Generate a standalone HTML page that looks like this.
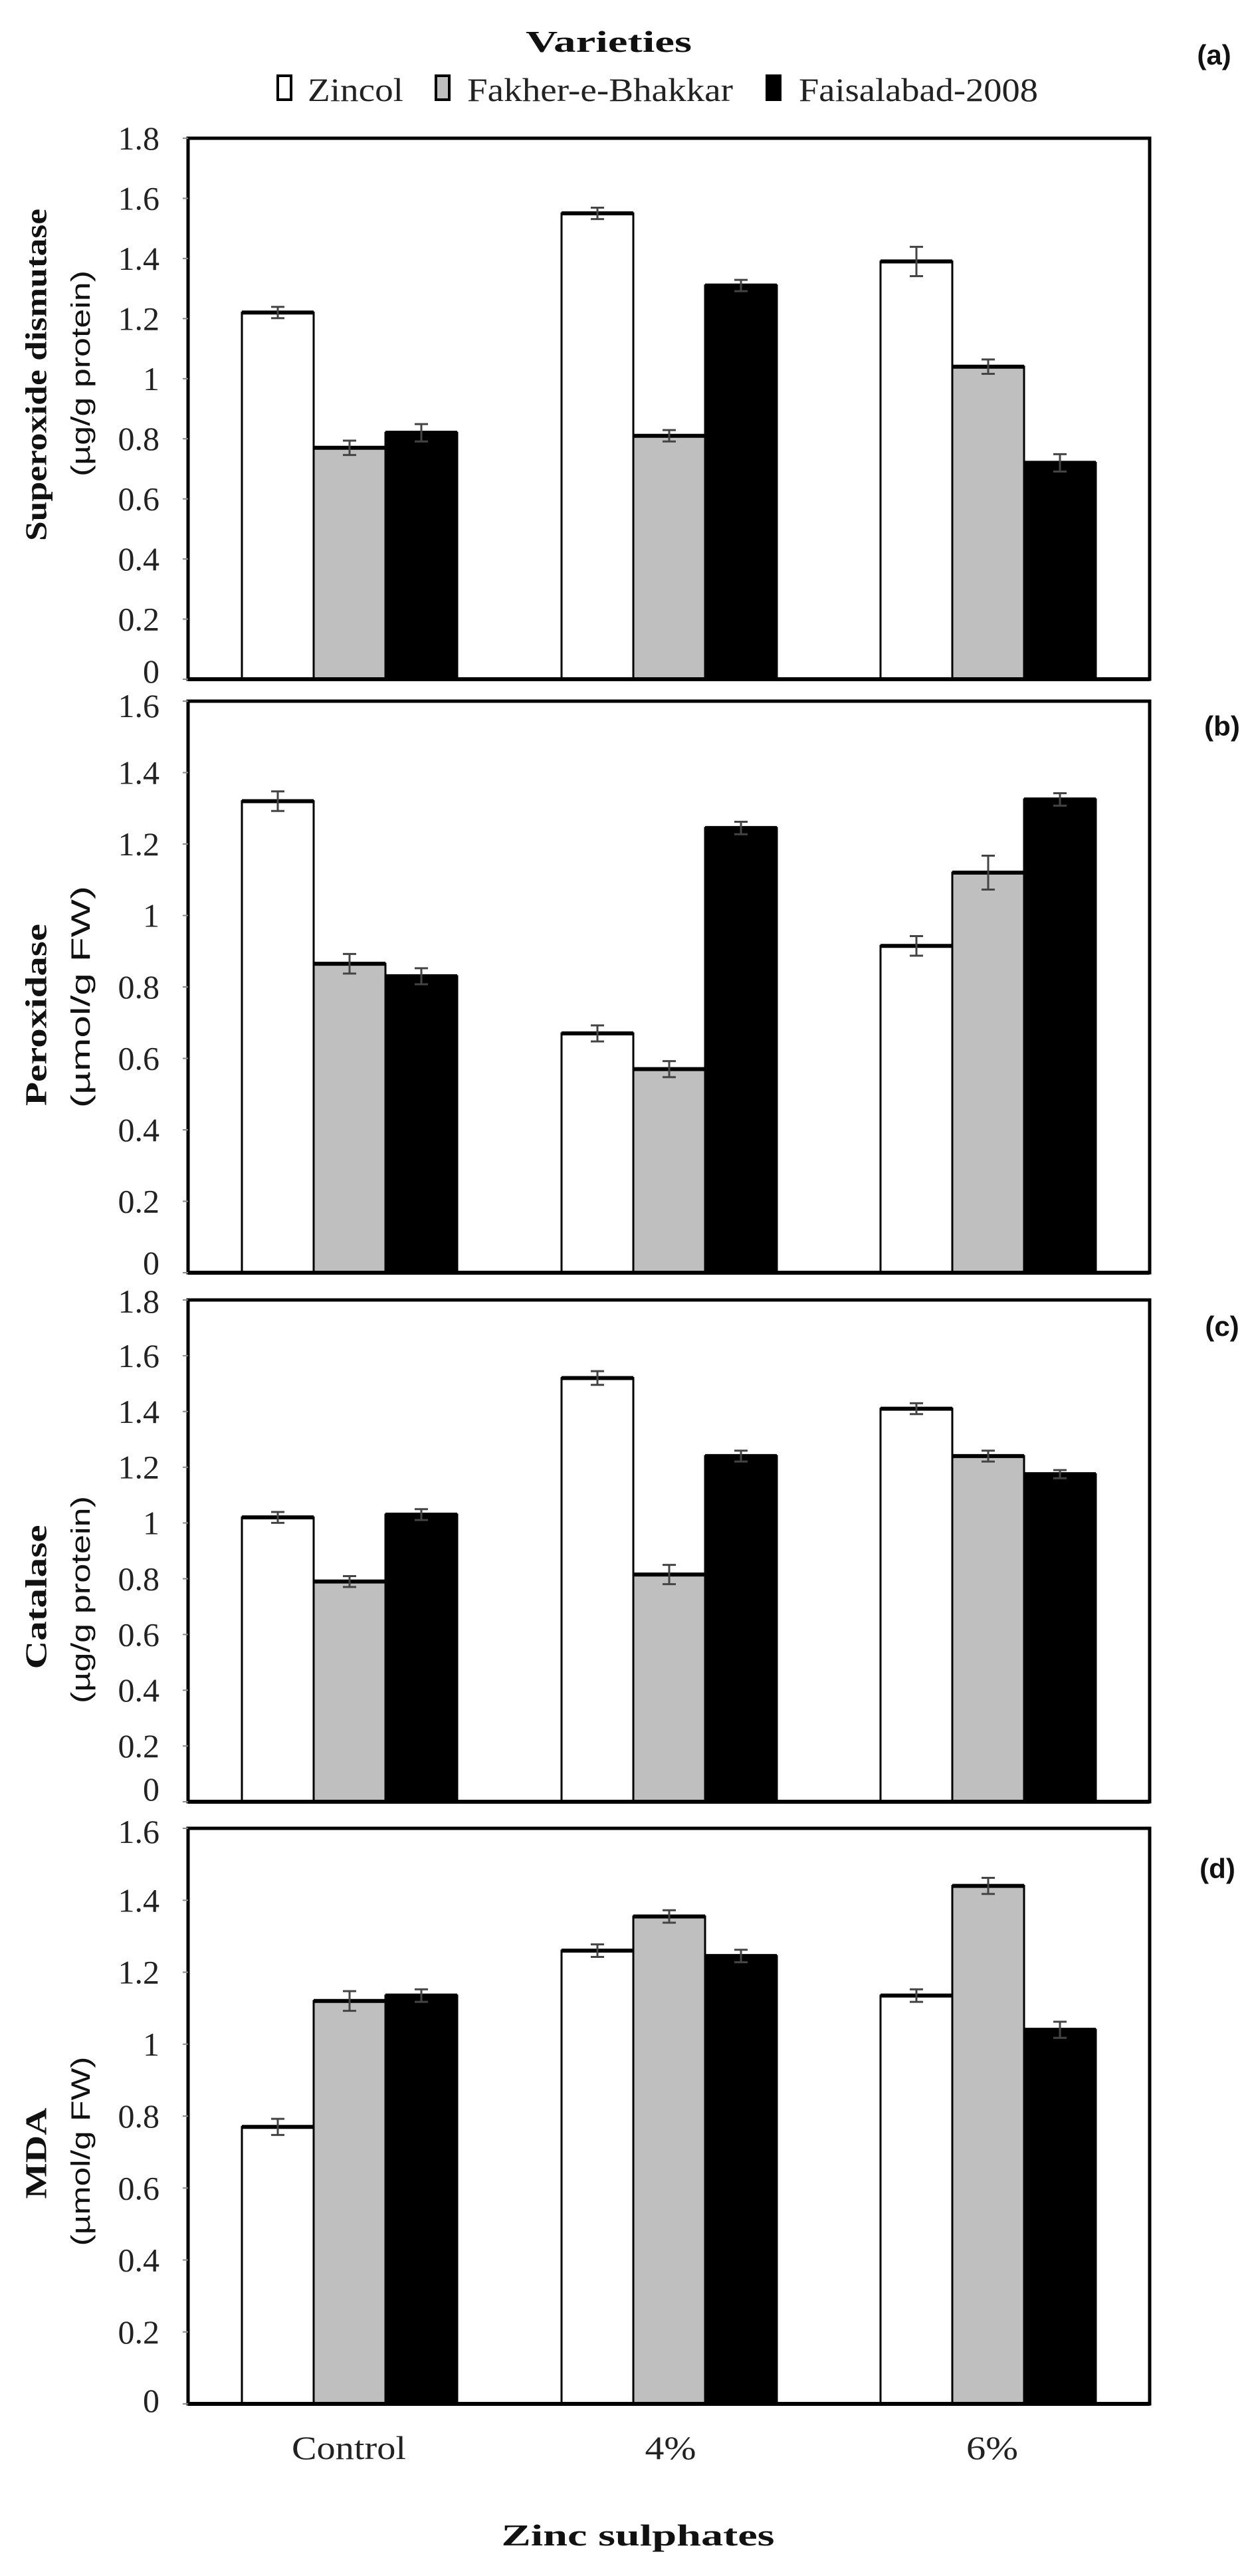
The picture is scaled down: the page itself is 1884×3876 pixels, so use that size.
<!DOCTYPE html>
<html><head><meta charset="utf-8"><style>
html,body{margin:0;padding:0;background:#fff}
svg{display:block}
.t{font-family:"Liberation Serif",serif;font-size:50px;fill:#222}
.l1{font-family:"Liberation Serif",serif;font-weight:bold;font-size:46px;fill:#111}
.l2{font-family:"Liberation Sans",sans-serif;font-size:40px;fill:#111}
.pl{font-family:"Liberation Sans",sans-serif;font-weight:bold;font-size:42px;fill:#111}
</style></head><body>
<svg id="s" width="1884" height="3876" viewBox="0 0 1884 3876" xmlns="http://www.w3.org/2000/svg">
<rect width="1884" height="3876" fill="#fff"/>
<text x="916" y="78" text-anchor="middle" class="l1" font-size="54" textLength="250" lengthAdjust="spacingAndGlyphs">Varieties</text>
<rect x="418" y="114" width="20" height="36" fill="#fff" stroke="#000" stroke-width="4"/>
<text x="463" y="152" class="t" textLength="144" lengthAdjust="spacingAndGlyphs">Zincol</text>
<rect x="656" y="114" width="20" height="36" fill="#bfbfbf" stroke="#000" stroke-width="4"/>
<text x="703" y="152" class="t" textLength="400" lengthAdjust="spacingAndGlyphs">Fakher-e-Bhakkar</text>
<rect x="1154" y="114" width="20" height="36" fill="#000" stroke="#000" stroke-width="4"/>
<text x="1202" y="152" class="t" textLength="360" lengthAdjust="spacingAndGlyphs">Faisalabad-2008</text>

<text x="1827" y="97" text-anchor="middle" class="pl">(a)</text>
<text x="1839" y="1107" text-anchor="middle" class="pl">(b)</text>
<text x="1839" y="2010" text-anchor="middle" class="pl">(c)</text>
<text x="1832" y="2826" text-anchor="middle" class="pl">(d)</text>

<g class="t" text-anchor="end" dominant-baseline="central">
<text x="240" y="1010">0</text><text x="240" y="931.6">0.2</text><text x="240" y="841.1">0.4</text><text x="240" y="750.7">0.6</text><text x="240" y="660.2">0.8</text><text x="240" y="569.8">1</text><text x="240" y="479.3">1.2</text><text x="240" y="388.9">1.4</text><text x="240" y="298.4">1.6</text><text x="240" y="208">1.8</text>
<text x="240" y="1900">0</text><text x="240" y="1807.5">0.2</text><text x="240" y="1700">0.4</text><text x="240" y="1592.5">0.6</text><text x="240" y="1485">0.8</text><text x="240" y="1377.5">1</text><text x="240" y="1270">1.2</text><text x="240" y="1162.5">1.4</text><text x="240" y="1062">1.6</text>
<text x="240" y="2692">0</text><text x="240" y="2627.1">0.2</text><text x="240" y="2543.2">0.4</text><text x="240" y="2459.3">0.6</text><text x="240" y="2375.4">0.8</text><text x="240" y="2291.5">1</text><text x="240" y="2207.7">1.2</text><text x="240" y="2123.8">1.4</text><text x="240" y="2039.9">1.6</text><text x="240" y="1958">1.8</text>
<text x="240" y="3612">0</text><text x="240" y="3508.75">0.2</text><text x="240" y="3400.5">0.4</text><text x="240" y="3292.25">0.6</text><text x="240" y="3184">0.8</text><text x="240" y="3075.75">1</text><text x="240" y="2967.5">1.2</text><text x="240" y="2859.25">1.4</text><text x="240" y="2756">1.6</text>
</g>

<g dominant-baseline="central" text-anchor="middle">
<text class="l1" transform="translate(54,564) rotate(-90)" textLength="500" lengthAdjust="spacingAndGlyphs">Superoxide dismutase</text>
<text class="l2" transform="translate(122,562) rotate(-90)" textLength="310" lengthAdjust="spacingAndGlyphs">(µg/g protein)</text>
<text class="l1" transform="translate(54,1527) rotate(-90)" textLength="274" lengthAdjust="spacingAndGlyphs">Peroxidase</text>
<text class="l2" transform="translate(122,1500) rotate(-90)" textLength="334" lengthAdjust="spacingAndGlyphs">(µmol/g FW)</text>
<text class="l1" transform="translate(54,2403) rotate(-90)" textLength="217" lengthAdjust="spacingAndGlyphs">Catalase</text>
<text class="l2" transform="translate(122,2407) rotate(-90)" textLength="312" lengthAdjust="spacingAndGlyphs">(µg/g protein)</text>
<text class="l1" transform="translate(54,3240) rotate(-90)" textLength="137" lengthAdjust="spacingAndGlyphs">MDA</text>
<text class="l2" transform="translate(122,3237) rotate(-90)" textLength="285" lengthAdjust="spacingAndGlyphs">(µmol/g FW)</text>
</g>

<text x="525" y="3700" text-anchor="middle" class="t" textLength="172" lengthAdjust="spacingAndGlyphs">Control</text>
<text x="1009" y="3700" text-anchor="middle" class="t" textLength="77" lengthAdjust="spacingAndGlyphs">4%</text>
<text x="1493" y="3700" text-anchor="middle" class="t" textLength="78" lengthAdjust="spacingAndGlyphs">6%</text>
<text x="960" y="3830" text-anchor="middle" class="l1" font-size="54" textLength="411" lengthAdjust="spacingAndGlyphs">Zinc sulphates</text>
<g id="g"></g>
</svg>
<script>
var P=[
{t:208,b:1022,m:1.8,v:[[1.22,.77,.82],[1.55,.81,1.31],[1.39,1.04,.72]],e:[[.01,.015,.02],[.01,.01,.01],[.04,.015,.02]]},
{t:1055,b:1915,m:1.6,v:[[1.32,.865,.83],[.67,.57,1.245],[.915,1.12,1.325]],e:[[.02,.02,.015],[.015,.015,.01],[.02,.04,.01]]},
{t:1956,b:2711,m:1.8,v:[[1.02,.79,1.03],[1.52,.815,1.24],[1.41,1.24,1.175]],e:[[.01,.01,.01],[.015,.025,.01],[.01,.01,.005]]},
{t:2751,b:3617,m:1.6,v:[[.77,1.12,1.135],[1.26,1.355,1.245],[1.135,1.44,1.04]],e:[[.015,.02,.01],[.01,.01,.01],[.01,.015,.015]]}];
var cols=["#fff","#bfbfbf","#000"],cx=[526,1007,1487],L=283,R=1730,h="";
P.forEach(function(p){
 var s=(p.b-p.t)/p.m;
 h+='<rect x="'+L+'" y="'+p.t+'" width="'+(R-L)+'" height="'+(p.b-p.t)+'" fill="none" stroke="#000" stroke-width="5"/>';
 for(var i=0;i<=p.m/0.2+0.01;i++){var y=p.b-i*0.2*s;h+='<line x1="'+(L-8)+'" x2="'+L+'" y1="'+y+'" y2="'+y+'" stroke="#888" stroke-width="2"/>';}
 for(var g=0;g<3;g++)for(var k=0;k<3;k++){
  var x=cx[g]-162+k*108,y=p.b-p.v[g][k]*s,eh=p.e[g][k]*s,mx=x+54;
  h+='<rect x="'+x+'" y="'+y+'" width="108" height="'+(p.b-y)+'" fill="'+cols[k]+'" stroke="#000" stroke-width="3"/>';
  h+='<line x1="'+x+'" x2="'+(x+108)+'" y1="'+y+'" y2="'+y+'" stroke="#000" stroke-width="6"/>';
  h+='<g stroke="#444" stroke-width="3"><line x1="'+mx+'" x2="'+mx+'" y1="'+(y-eh-4)+'" y2="'+(y+eh+4)+'"/><line x1="'+(mx-10)+'" x2="'+(mx+10)+'" y1="'+(y-eh-4)+'" y2="'+(y-eh-4)+'"/><line x1="'+(mx-10)+'" x2="'+(mx+10)+'" y1="'+(y+eh+4)+'" y2="'+(y+eh+4)+'"/></g>';
 }
 h+='<line x1="'+L+'" x2="'+R+'" y1="'+p.b+'" y2="'+p.b+'" stroke="#000" stroke-width="6"/>';
});
document.getElementById("g").innerHTML=h;
</script>
</body></html>
